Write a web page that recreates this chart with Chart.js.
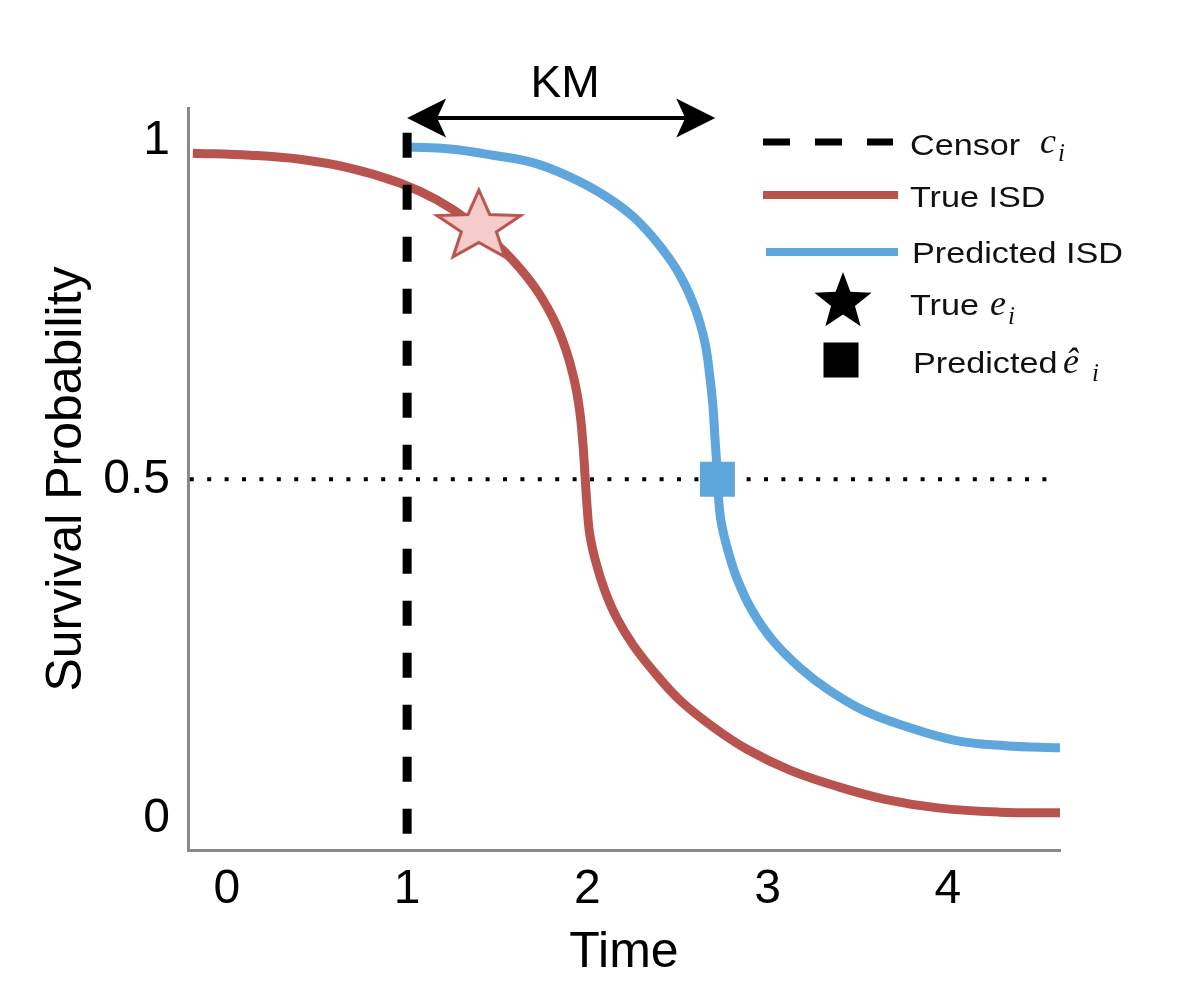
<!DOCTYPE html>
<html>
<head>
<meta charset="utf-8">
<script src="https://cdn.jsdelivr.net/npm/chart.js@4.4.0/dist/chart.umd.min.js"></script>
<style>
  html, body { margin: 0; padding: 0; background: #fff; }
  #wrap { width: 1196px; height: 998px; }
</style>
</head>
<body>
<div id="wrap"><canvas id="survChart" width="1196" height="998"></canvas></div>
<script>
// tick labels
var timeTicks = [0, 1, 2, 3, 4];
var probTicks = [0, 0.5, 1];

// true ISD curve
var trueIsdTime = [-0.189, 0.128, 0.405, 0.683, 0.960, 1.165, 1.360, 1.543, 1.698, 1.809, 1.881, 1.931,
                   1.959, 1.976, 1.987, 1.998, 2.014, 2.048, 2.098, 2.164, 2.253, 2.370, 2.514, 2.691,
                   2.891, 3.124, 3.374, 3.652, 3.957, 4.290, 4.623];
var trueIsdSurv = [0.981, 0.978, 0.972, 0.959, 0.937, 0.912, 0.878, 0.835, 0.787, 0.738, 0.691, 0.642,
                   0.598, 0.551, 0.506, 0.462, 0.418, 0.377, 0.335, 0.295, 0.256, 0.216, 0.174, 0.136,
                   0.101, 0.071, 0.048, 0.028, 0.015, 0.009, 0.008];

// predicted ISD curve
var predIsdTime = [1.0, 1.238, 1.476, 1.698, 1.903, 2.098, 2.264, 2.403, 2.514, 2.597, 2.653, 2.680,
                   2.697, 2.708, 2.719, 2.725, 2.741, 2.775, 2.830, 2.913, 3.030, 3.180, 3.346, 3.541,
                   3.774, 4.040, 4.317, 4.623];
var predIsdSurv = [0.990, 0.987, 0.978, 0.967, 0.946, 0.918, 0.885, 0.844, 0.801, 0.753, 0.701, 0.651,
                   0.608, 0.562, 0.518, 0.484, 0.440, 0.400, 0.354, 0.307, 0.262, 0.222, 0.188, 0.158,
                   0.135, 0.115, 0.107, 0.104];

var censorTime = 1;
var trueEvent = [1.398, 0.872];   // time, survival
var predEvent = [2.722, 0.5];
var medianLevel = 0.5;
var kmEndTime = 2.71;

var RED = '#b9534f';
var BLUE = '#5ea6db';
var FONT = '"Liberation Sans", Arial, Helvetica, sans-serif';
var MATH = '"Liberation Serif", "Times New Roman", serif';

var xMin = -0.216, xMax = 4.623;
var yMin = -0.0468, yMax = 1.0476;

function toPoints(xs, ys) {
    return xs.map(function (x, i) { return { x: x, y: ys[i] }; });
}

function starPath(g, rx, ry) {
    g.beginPath();
    for (var k = 0; k < 10; k++) {
        var a = -Math.PI / 2 + k * Math.PI / 5;
        var r = (k % 2 === 0) ? 1 : 0.42;
        var px = Math.cos(a) * rx * r, py = Math.sin(a) * ry * r;
        if (k === 0) g.moveTo(px, py); else g.lineTo(px, py);
    }
    g.closePath();
}

// star marker as a small canvas, used as pointStyle
function makeStar(rx, ry, fill, stroke, lw) {
    var c = document.createElement('canvas');
    c.width = Math.ceil(2 * rx + 2 * lw + 4);
    c.height = Math.ceil(2 * ry + 2 * lw + 4);
    var g = c.getContext('2d');
    g.translate(c.width / 2, c.height / 2);
    starPath(g, rx, ry);
    g.fillStyle = fill;
    g.fill();
    if (stroke) {
        g.lineWidth = lw;
        g.strokeStyle = stroke;
        g.lineJoin = 'miter';
        g.stroke();
    }
    return c;
}

function stretchText(ctx, txt, x, y, sx) {
    ctx.save();
    ctx.translate(x, y);
    ctx.scale(sx, 1);
    ctx.fillText(txt, 0, 0);
    ctx.restore();
}

function arrowHead(ctx, tipX, y, dir) {
    // dir = 1 points left, -1 points right
    ctx.beginPath();
    ctx.moveTo(tipX, y);
    ctx.lineTo(tipX + dir * 39, y - 19.5);
    ctx.lineTo(tipX + dir * 30, y);
    ctx.lineTo(tipX + dir * 39, y + 19.5);
    ctx.closePath();
    ctx.fill();
}

var overlayPlugin = {
    id: 'overlay',
    afterDraw: function (chart) {
        var ctx = chart.ctx;
        var xs = chart.scales.x;
        var area = chart.chartArea;
        ctx.save();
        ctx.fillStyle = '#000';
        ctx.strokeStyle = '#000';

        // KM double arrow
        var x0 = xs.getPixelForValue(censorTime);
        var x1 = xs.getPixelForValue(kmEndTime);
        var ya = area.top + 10;
        ctx.lineWidth = 4;
        ctx.beginPath();
        ctx.moveTo(x0 + 30, ya);
        ctx.lineTo(x1 - 30, ya);
        ctx.stroke();
        arrowHead(ctx, x0, ya, 1);
        arrowHead(ctx, x1, ya, -1);
        ctx.font = '44px ' + FONT;
        ctx.textAlign = 'center';
        ctx.textBaseline = 'alphabetic';
        stretchText(ctx, 'KM', (x0 + x1) / 2 + 4, ya - 21, 1.05);

        // legend
        ctx.textAlign = 'left';
        ctx.lineCap = 'butt';
        ctx.lineWidth = 7;
        ctx.setLineDash([27, 25]);
        ctx.beginPath();
        ctx.moveTo(763, 142); ctx.lineTo(893, 142);
        ctx.stroke();
        ctx.setLineDash([]);

        ctx.lineWidth = 8;
        ctx.strokeStyle = RED;
        ctx.beginPath();
        ctx.moveTo(763, 195); ctx.lineTo(898, 195);
        ctx.stroke();
        ctx.strokeStyle = BLUE;
        ctx.beginPath();
        ctx.moveTo(766, 252); ctx.lineTo(898, 252);
        ctx.stroke();

        ctx.save();
        ctx.translate(843, 302);
        starPath(ctx, 30, 30);
        ctx.fillStyle = '#000';
        ctx.fill();
        ctx.restore();
        ctx.fillRect(841 - 17.5, 360 - 17.5, 35, 35);

        ctx.fillStyle = '#111';
        ctx.font = '30px ' + FONT;
        stretchText(ctx, 'Censor', 910, 155, 1.14);
        stretchText(ctx, 'True ISD', 910, 207, 1.14);
        stretchText(ctx, 'Predicted ISD', 912, 263, 1.14);
        stretchText(ctx, 'True', 910, 315, 1.14);
        stretchText(ctx, 'Predicted', 913, 373, 1.14);

        ctx.font = 'italic 36px ' + MATH;
        ctx.fillText('c', 1040, 153);
        ctx.fillText('e', 990, 315);
        ctx.fillText('ê', 1063, 373);
        ctx.font = 'italic 25px ' + MATH;
        ctx.fillText('i', 1058, 161);
        ctx.fillText('i', 1008, 324);
        ctx.fillText('i', 1092, 381);

        ctx.restore();
    }
};

var ctx = document.getElementById('survChart').getContext('2d');

var datasets = [
    {
        label: 'True event',
        data: [{ x: trueEvent[0], y: trueEvent[1] }],
        pointStyle: makeStar(44, 37, '#f6cccb', RED, 3),
        pointRadius: 40,
        showLine: false
    },
    {
        label: 'Predicted event',
        data: [{ x: predEvent[0], y: predEvent[1] }],
        pointStyle: 'rect',
        pointRadius: 24.7,
        backgroundColor: BLUE,
        borderWidth: 0,
        showLine: false
    },
    {
        label: 'Censor',
        data: [{ x: censorTime, y: 1.011 }, { x: censorTime, y: -0.034 }],
        borderColor: '#000',
        borderWidth: 9,
        borderDash: [25, 27],
        borderCapStyle: 'butt',
        pointRadius: 0,
        showLine: true
    },
    {
        label: 'True ISD',
        data: toPoints(trueIsdTime, trueIsdSurv),
        borderColor: RED,
        borderWidth: 9,
        pointRadius: 0,
        showLine: true,
        tension: 0.4,
        borderJoinStyle: 'round'
    },
    {
        label: 'Predicted ISD',
        data: toPoints(predIsdTime, predIsdSurv),
        borderColor: BLUE,
        borderWidth: 9,
        pointRadius: 0,
        showLine: true,
        tension: 0.4,
        borderJoinStyle: 'round'
    },
    {
        label: 'Median',
        data: [{ x: xMin + 0.01, y: medianLevel }, { x: xMax - 0.005, y: medianLevel }],
        borderColor: '#000',
        borderWidth: 4,
        borderDash: [4, 13.4],
        borderCapStyle: 'butt',
        pointRadius: 0,
        showLine: true
    }
];

var survChart = new Chart(ctx, {
    type: 'scatter',
    data: { datasets: datasets },
    options: {
        responsive: false,
        animation: false,
        events: [],
        layout: { padding: { top: 108, right: 136, left: 0, bottom: 0 } },
        scales: {
            x: {
                type: 'linear',
                min: xMin,
                max: xMax,
                afterFit: function (scale) { scale.height = 148; },
                afterBuildTicks: function (scale) {
                    scale.ticks = timeTicks.map(function (v) { return { value: v }; });
                },
                grid: { display: false, drawTicks: false },
                border: { display: true, color: '#8a8a8a', width: 3 },
                ticks: {
                    padding: 11,
                    color: '#000',
                    font: { family: FONT, size: 48 },
                    callback: function (v) { return String(v); }
                },
                title: {
                    display: true,
                    text: 'Time',
                    color: '#000',
                    font: { family: FONT, size: 50 },
                    padding: { top: 0, bottom: 15 }
                }
            },
            y: {
                type: 'linear',
                min: yMin,
                max: yMax,
                afterFit: function (scale) { scale.width = 188; },
                afterBuildTicks: function (scale) {
                    scale.ticks = probTicks.map(function (v) { return { value: v }; });
                },
                grid: { display: false, drawTicks: false },
                border: { display: true, color: '#8a8a8a', width: 3 },
                ticks: {
                    padding: 18,
                    color: '#000',
                    font: { family: FONT, size: 48 },
                    callback: function (v) { return String(v); }
                },
                title: {
                    display: true,
                    text: 'Survival Probability',
                    color: '#000',
                    font: { family: FONT, size: 50 },
                    padding: { top: 37, bottom: 0 }
                }
            }
        },
        plugins: {
            legend: { display: false },
            tooltip: { enabled: false }
        }
    },
    plugins: [overlayPlugin]
});
</script>
</body>
</html>
